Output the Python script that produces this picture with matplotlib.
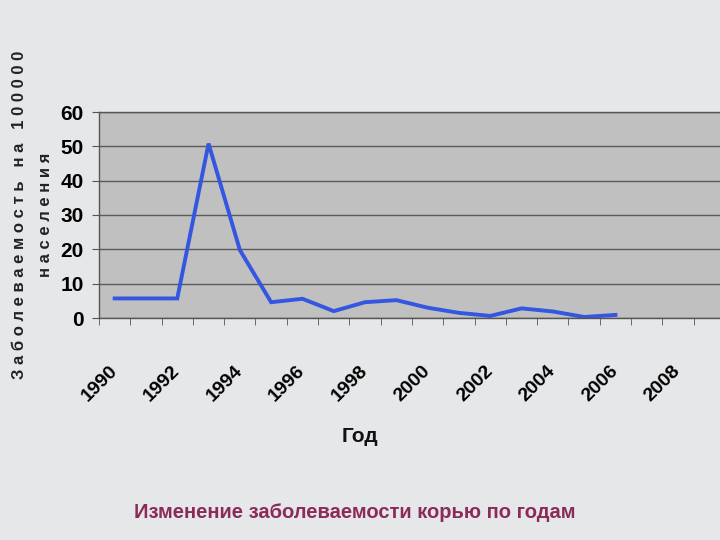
import matplotlib
matplotlib.use("Agg")
import matplotlib.pyplot as plt
from matplotlib import font_manager

# data
years = [1990, 1991, 1992, 1993, 1994, 1995, 1996, 1997, 1998, 1999,
         2000, 2001, 2002, 2003, 2004, 2005, 2006]
incidence = [5.7, 5.7, 5.7, 50.8, 19.8, 4.6, 5.6, 2.0, 4.6, 5.2,
             3.0, 1.5, 0.6, 2.8, 1.9, 0.3, 0.9]
tick_years = [1990, 1992, 1994, 1996, 1998, 2000, 2002, 2004, 2006, 2008]
y_ticks = [0, 10, 20, 30, 40, 50, 60]

names = {f.name for f in font_manager.fontManager.ttflist}
NARROW = "Liberation Sans Narrow" if "Liberation Sans Narrow" in names else "Liberation Sans"

fig = plt.figure(figsize=(7.2, 5.4), dpi=100)
fig.patch.set_facecolor("#e6e7e9")

ax = fig.add_axes([99 / 720, 222 / 540, 626 / 720, 206 / 540])
ax.set_facecolor("#c0c0c0")
ax.plot(years, incidence, color="#3456e0", linewidth=2.8, solid_joinstyle="miter")

ax.set_xlim(1989.5, 2009.5)
ax.set_ylim(0, 60)
ax.set_yticks(y_ticks)
ax.set_yticklabels([str(v) for v in y_ticks], fontfamily=NARROW,
                   fontweight="bold", fontsize=15)
ax.yaxis.grid(True, color="#5a5a5a", linewidth=1.0)
ax.set_axisbelow(True)

ax.set_xticks(tick_years)
ax.set_xticklabels([str(y) for y in tick_years], rotation=45, ha="right",
                   va="center", rotation_mode="anchor", fontfamily=NARROW,
                   fontweight="bold", fontsize=14)
ax.set_xticks([y + 0.5 for y in range(1989, 2010)], minor=True)
ax.tick_params(axis="x", which="major", length=0, pad=36)
ax.tick_params(axis="x", which="minor", length=5, color="#555555")
ax.tick_params(axis="y", length=5, color="#555555", pad=6)

for s in ax.spines.values():
    s.set_color("#555555")
    s.set_linewidth(1.0)

fig.text(20 / 720, 1 - 215 / 540,
         "З а б о л е в а е м о с т ь   н а   1 0 0 0 0 0",
         rotation=90, ha="center", va="center", fontsize=12,
         fontweight="bold", fontfamily="Liberation Sans", color="#222222")
fig.text(45 / 720, 1 - 215 / 540, "н а с е л е н и я",
         rotation=90, ha="center", va="center", fontsize=12,
         fontweight="bold", fontfamily="Liberation Sans", color="#222222")

fig.text(360 / 720, 1 - 437 / 540, "Год", ha="center", va="center",
         fontsize=15, fontweight="bold", fontfamily=NARROW, color="#111111")
fig.text(355 / 720, 1 - 512 / 540, "Изменение заболеваемости корью по годам",
         ha="center", va="center", fontsize=14.5, fontweight="bold",
         fontfamily=NARROW, color="#8b2b5a")

fig.savefig("out.png", dpi=100, facecolor=fig.get_facecolor())
